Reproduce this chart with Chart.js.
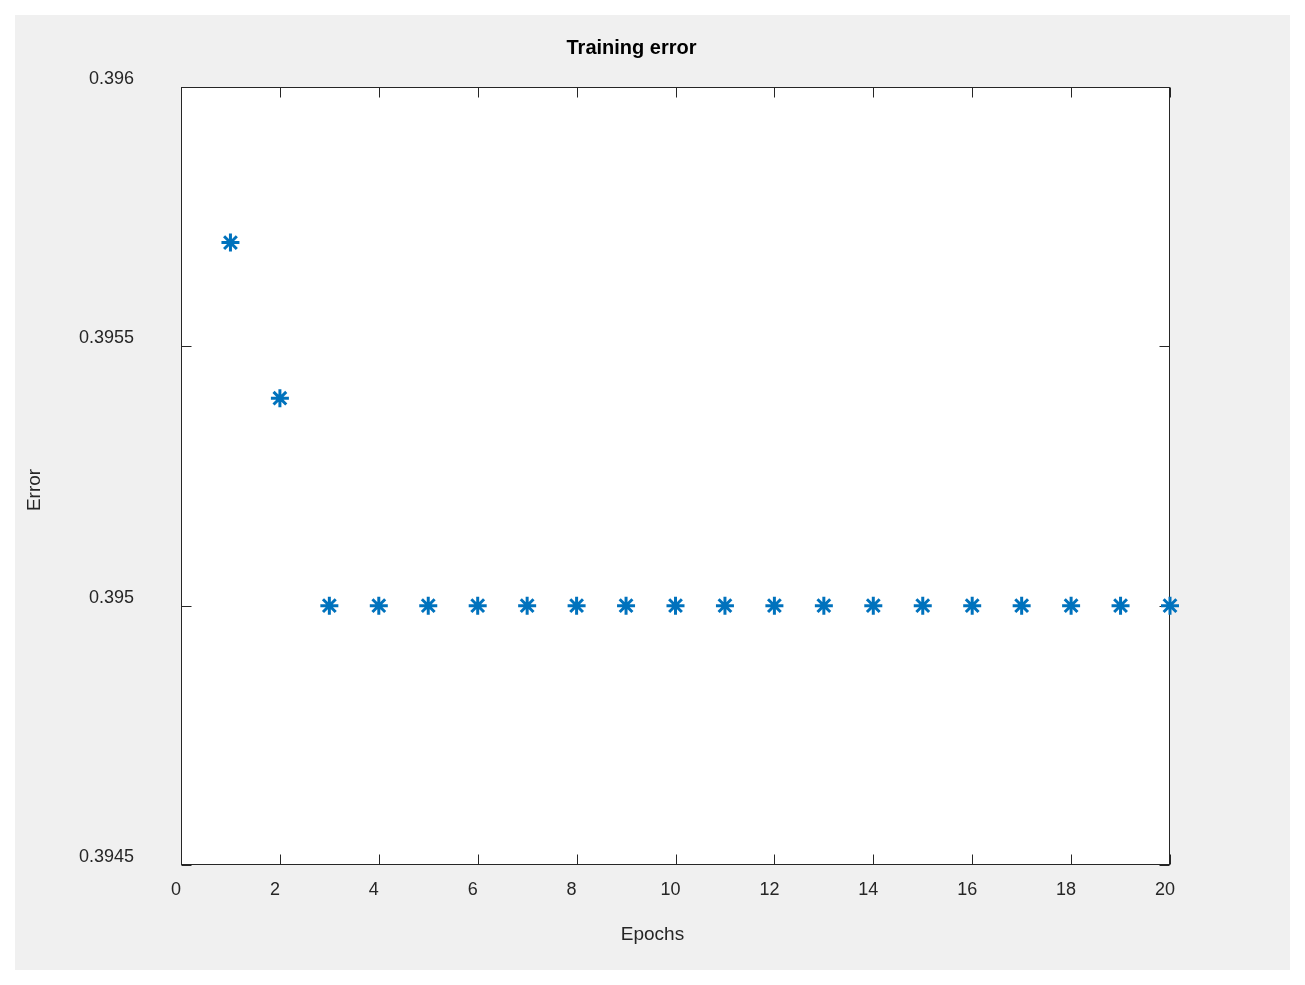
<!DOCTYPE html>
<html>
<head>
<meta charset="utf-8">
<script src="https://cdn.jsdelivr.net/npm/chart.js@4.4.1/dist/chart.umd.min.js"></script>
<style>
  body { margin: 0; background: #fff; }
  #fig { position: absolute; left: 15px; top: 15px; width: 1275px; height: 955px; background: #f0f0f0; }
</style>
</head>
<body>
<div id="fig"><canvas id="chart" width="1275" height="955"></canvas></div>
<script>
// values
const epochs = [1, 2, 3, 4, 5, 6, 7, 8, 9, 10, 11, 12, 13, 14, 15, 16, 17, 18, 19, 20];
const errorValues = [0.3957, 0.3954, 0.395, 0.395, 0.395, 0.395, 0.395, 0.395, 0.395, 0.395,
                     0.395, 0.395, 0.395, 0.395, 0.395, 0.395, 0.395, 0.395, 0.395, 0.395];
const xTicks = [0, 2, 4, 6, 8, 10, 12, 14, 16, 18, 20];
const yTicks = [0.3945, 0.395, 0.3955, 0.396];

const titleText = 'Training error';
const xLabel = 'Epochs';
const yLabel = 'Error';

const FONT = "'Liberation Sans', Arial, Helvetica, sans-serif";
const AXIS_COLOR = '#262626';

// matlab style: white axes, box on, ticks pointing inwards on all four sides
const matlabAxes = {
  id: 'matlabAxes',
  beforeDraw(chart) {
    const { ctx, chartArea: a } = chart;
    ctx.save();
    ctx.fillStyle = '#ffffff';
    ctx.fillRect(a.left, a.top, a.right - a.left, a.bottom - a.top);
    ctx.restore();
  },
  beforeDatasetsDraw(chart) {
    const { ctx, chartArea: a, scales } = chart;
    const L = Math.round(a.left) + 0.5, R = Math.round(a.right) - 0.5;
    const T = Math.round(a.top) + 0.5, B = Math.round(a.bottom) - 0.5;
    const len = 10;
    ctx.save();
    ctx.strokeStyle = AXIS_COLOR;
    ctx.lineWidth = 1;
    ctx.beginPath();
    scales.x.ticks.forEach(t => {
      const px = Math.round(scales.x.getPixelForValue(t.value)) + 0.5;
      ctx.moveTo(px, B); ctx.lineTo(px, B - len);
      ctx.moveTo(px, T); ctx.lineTo(px, T + len);
    });
    scales.y.ticks.forEach(t => {
      const py = Math.round(scales.y.getPixelForValue(t.value)) + 0.5;
      ctx.moveTo(L, py); ctx.lineTo(L + len, py);
      ctx.moveTo(R, py); ctx.lineTo(R - len, py);
    });
    ctx.stroke();
    ctx.strokeRect(L, T, R - L, B - T);
    ctx.restore();
  },
  afterDraw(chart) {
    const { ctx, chartArea: a } = chart;
    const cx = (a.left + a.right) / 2;
    const cy = (a.top + a.bottom) / 2;
    ctx.save();
    ctx.textAlign = 'center';
    ctx.textBaseline = 'middle';
    ctx.fillStyle = '#000';
    ctx.font = 'bold 20px ' + FONT;
    ctx.fillText(titleText, cx - 44, a.top - 39);
    ctx.fillStyle = AXIS_COLOR;
    ctx.font = '19px ' + FONT;
    ctx.fillText(xLabel, cx - 23, a.bottom + 70);
    ctx.translate(a.left - 146, cy + 14);
    ctx.rotate(-Math.PI / 2);
    ctx.fillText(yLabel, 0, 0);
    ctx.restore();
  }
};

const ctx = document.getElementById('chart').getContext('2d');
const chart = new Chart(ctx, {
  type: 'scatter',
  data: {
    datasets: [{
      label: 'Training error',
      data: epochs.map((e, i) => ({ x: e, y: errorValues[i] })),
      pointStyle: 'star',
      pointRadius: 9,
      pointHoverRadius: 9,
      borderWidth: 3,
      borderColor: '#0072BD',
      backgroundColor: '#0072BD',
      showLine: false,
      clip: false
    }]
  },
  options: {
    responsive: false,
    animation: false,
    events: [],
    layout: {
      padding: { left: 10, top: 72, right: 120, bottom: 55 }
    },
    plugins: {
      legend: { display: false },
      title: { display: false },
      tooltip: { enabled: false }
    },
    scales: {
      x: {
        type: 'linear',
        min: 0,
        max: 20,
        afterBuildTicks: s => { s.ticks = xTicks.map(v => ({ value: v })); },
        afterFit: s => { s.height = 50; },
        grid: { display: false },
        border: { display: false },
        ticks: {
          color: AXIS_COLOR,
          font: { family: FONT, size: 18 },
          padding: 6,
          labelOffset: -5,
          maxRotation: 0,
          autoSkip: false,
          callback: v => String(v)
        }
      },
      y: {
        type: 'linear',
        min: 0.3945,
        max: 0.396,
        afterBuildTicks: s => { s.ticks = yTicks.map(v => ({ value: v })); },
        afterFit: s => { s.width = 156; },
        grid: { display: false },
        border: { display: false },
        ticks: {
          color: AXIS_COLOR,
          font: { family: FONT, size: 18 },
          padding: 39,
          labelOffset: -8,
          autoSkip: false,
          callback: v => String(Number(v.toFixed(4)))
        }
      }
    }
  },
  plugins: [matlabAxes]
});
</script>
</body>
</html>
